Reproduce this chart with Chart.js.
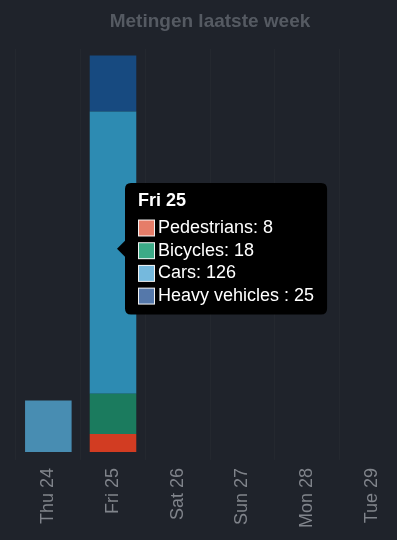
<!DOCTYPE html>
<html>
<head>
<meta charset="utf-8">
<script src="https://cdn.jsdelivr.net/npm/chart.js@4"></script>
<style>
  html, body { margin: 0; padding: 0; background: #1f232b; overflow: hidden; }
  canvas { display: block; }
</style>
</head>
<body>
<canvas id="weekChart" width="420" height="540"></canvas>
<script>
const days = ['Thu 24', 'Fri 25', 'Sat 26', 'Sun 27', 'Mon 28', 'Tue 29'];
const pedestrians = [0, 8, 0, 0, 0, 0];
const bicycles = [0, 18, 0, 0, 0, 0];
const cars = [23, 126, 0, 0, 0, 0];
const heavyVehicles = [0, 25, 0, 0, 0, 0];

Chart.defaults.font.family = "'Liberation Sans', Arial, Helvetica, sans-serif";

// tooltip anchored at the average of the bar tops
Chart.Tooltip.positioners.barTop = function (items) {
  if (!items.length) return false;
  let x = 0, y = 0;
  items.forEach(i => { x += i.element.x; y += i.element.y; });
  return { x: x / items.length, y: y / items.length };
};

const ctx = document.getElementById('weekChart').getContext('2d');
const chart = new Chart(ctx, {
  type: 'bar',
  data: {
    labels: days,
    datasets: [
      { label: 'Pedestrians', data: pedestrians,
        backgroundColor: 'rgba(224,92,67,0.8)', hoverBackgroundColor: '#d23c22', borderWidth: 0 },
      { label: 'Bicycles', data: bicycles,
        backgroundColor: 'rgba(11,149,105,0.8)', hoverBackgroundColor: '#1b7b5e', borderWidth: 0 },
      { label: 'Cars', data: cars,
        backgroundColor: 'rgba(82,168,212,0.8)', hoverBackgroundColor: '#2d8bb2', borderWidth: 0 },
      { label: 'Heavy vehicles ', data: heavyVehicles,
        backgroundColor: 'rgba(43,86,149,0.8)', hoverBackgroundColor: '#174a80', borderWidth: 0 }
    ]
  },
  options: {
    responsive: false,
    animation: false,
    events: [],
    layout: { padding: { left: 16, right: 16, bottom: 4 } },
    scales: {
      x: {
        stacked: true,
        grid: { color: 'rgba(255,255,255,0.022)', tickLength: 8 },
        border: { display: false },
        ticks: { color: '#80848b', font: { size: 18 }, minRotation: 90, maxRotation: 90, padding: 8 }
      },
      y: { stacked: true, display: false, beginAtZero: true }
    },
    plugins: {
      legend: { display: false },
      title: {
        display: true,
        text: 'Metingen laatste week',
        color: '#555a62',
        font: { size: 19, weight: 'bold' },
        padding: { top: 10, bottom: 16 }
      },
      tooltip: {
        mode: 'index',
        position: 'barTop',
        animation: false,
        backgroundColor: '#000',
        titleColor: '#fff',
        bodyColor: '#fff',
        titleFont: { size: 18, weight: 'bold', lineHeight: 1.15 },
        bodyFont: { size: 18, lineHeight: 1.15 },
        bodySpacing: 2,
        titleMarginBottom: 6,
        padding: { x: 13, y: 8 },
        cornerRadius: 6,
        caretSize: 8,
        caretPadding: 4,
        boxWidth: 17,
        boxHeight: 17,
        boxPadding: 1
      }
    }
  }
});

const fri = days.indexOf('Fri 25');
const active = chart.data.datasets.map((d, i) => ({ datasetIndex: i, index: fri }));
chart.setActiveElements(active);
chart.tooltip.setActiveElements(active, { x: 0, y: 0 });
chart.update();
</script>
</body>
</html>
